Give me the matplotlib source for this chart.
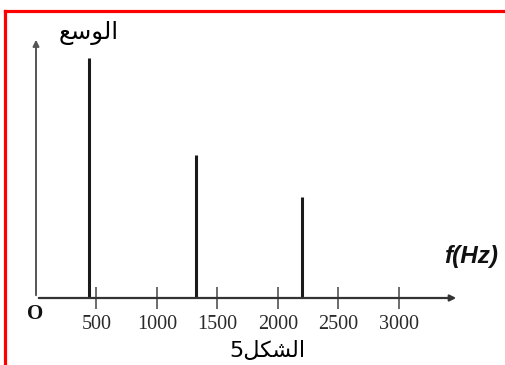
import matplotlib
matplotlib.use('Agg')
import matplotlib.pyplot as plt
from matplotlib.lines import Line2D

# spectrum data (Hz, relative amplitude)
freqs = [440, 1320, 2200]
amps = [1.0, 0.596, 0.42]
tick_pos = [500, 1000, 1500, 2000, 2500, 3000]
tick_labels = ['500', '1000', '1500', '2000', '2500', '3000']

# Arabic labels written in presentation forms, visual order (matplotlib does no shaping)
ylabel_ar = '\uFECA\uFEB3\uFEEE\uFEDF\uFE8D'          # الوسع
caption_ar = '5\uFEDE\uFEDC\uFEB8\uFEDF\uFE8D'        # الشكل5

W, H = 506, 365
fig = plt.figure(figsize=(W / 100, H / 100), dpi=100)
fig.patch.set_facecolor('white')

# axes placed so that x=0 sits on the vertical arrow
ax = fig.add_axes([36 / W, 67 / H, 423 / W, 261 / H])
ax.set_xlim(0, 3500)
ax.set_ylim(0, 261 / 240)
for s in ax.spines.values():
    s.set_visible(False)
ax.patch.set_alpha(0)

ax.vlines(freqs, 0, amps, color='#1a1a1a', lw=2.2)

# axis arrows
ax.annotate('', xy=(0, 261 / 240), xytext=(0, 0), annotation_clip=False,
            arrowprops=dict(arrowstyle='-|>', color='#555555', lw=1.4, mutation_scale=9))
ax.annotate('', xy=(3500, 0), xytext=(0, 0), annotation_clip=False,
            arrowprops=dict(arrowstyle='-|>', color='#333333', lw=1.6, mutation_scale=9))

ax.set_yticks([])
ax.set_xticks(tick_pos)
ax.set_xticklabels(tick_labels, fontfamily='Liberation Serif', fontsize=14.5, color='#2a2a2a')
ax.tick_params(axis='x', direction='inout', length=16, width=1.1, color='#444444', pad=4)

fig.text(35 / W, 1 - 314 / H, 'O', fontfamily='Liberation Serif', fontsize=15,
         fontweight='bold', ha='center', va='center', color='#111111')
fig.text(89 / W, 1 - 33 / H, ylabel_ar, fontfamily='DejaVu Sans', fontsize=17.5,
         ha='center', va='center', color='black')
fig.text(471 / W, 1 - 256 / H, 'f(Hz)', fontfamily='Liberation Sans', fontsize=17.5,
         fontweight='bold', fontstyle='italic', ha='center', va='center', color='#111111')
fig.text(267 / W, 1 - 351 / H, caption_ar, fontfamily='DejaVu Sans', fontsize=16,
         ha='center', va='center', color='black')

# red frame (top and left edges visible in the crop)
fig.add_artist(Line2D([5.5 / W, 1], [1 - 10.5 / H, 1 - 10.5 / H], color='red', lw=2.3))
fig.add_artist(Line2D([5.5 / W, 5.5 / W], [0, 1 - 10.5 / H], color='red', lw=2.3))

fig.savefig('out.png', dpi=100)
